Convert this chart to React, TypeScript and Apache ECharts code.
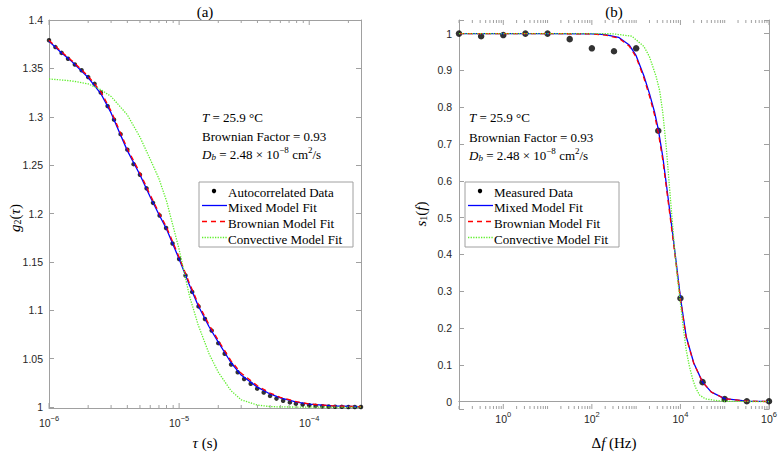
import React, { useEffect, useRef } from 'react';
import * as echarts from 'echarts';

// ---------- (a) autocorrelation ----------
const tauData = [
  1.0e-6, 1.12e-6, 1.25e-6, 1.4e-6, 1.58e-6, 1.78e-6, 2.0e-6, 2.24e-6, 2.5e-6, 2.82e-6,
  3.16e-6, 3.55e-6, 4.0e-6, 4.47e-6, 5.0e-6, 5.62e-6, 6.3e-6, 7.08e-6, 7.94e-6, 8.9e-6,
  1.0e-5, 1.12e-5, 1.26e-5, 1.41e-5, 1.58e-5, 1.78e-5, 2.0e-5, 2.24e-5, 2.51e-5, 2.82e-5,
  3.16e-5, 3.55e-5, 3.98e-5, 4.47e-5, 5.0e-5, 5.6e-5, 6.3e-5, 7.1e-5, 7.9e-5, 8.9e-5,
  1.0e-4, 1.12e-4, 1.26e-4, 1.41e-4, 1.58e-4, 1.78e-4, 2.0e-4, 2.24e-4, 2.5e-4,
];
const g2Data = [
  1.379, 1.372, 1.366, 1.36, 1.354, 1.348, 1.341, 1.334, 1.325, 1.311,
  1.297, 1.282, 1.266, 1.251, 1.24, 1.226, 1.211, 1.198, 1.185, 1.169,
  1.153, 1.136, 1.119, 1.104, 1.091, 1.079, 1.066, 1.055, 1.044, 1.036,
  1.029, 1.024, 1.019, 1.015, 1.0115, 1.0087, 1.0065, 1.0048, 1.0035, 1.0025,
  1.0018, 1.0012, 1.0008, 1.0005, 1.0003, 1.0002, 1.0001, 1.0, 1.0,
];
const tauFit = [
  1e-6, 1.25e-6, 1.5e-6, 2e-6, 2.5e-6, 3e-6, 4e-6, 5e-6, 6e-6, 7e-6, 8e-6,
  1e-5, 1.2e-5, 1.4e-5, 1.7e-5, 2e-5, 2.5e-5, 3e-5, 4e-5, 5e-5, 6e-5, 8e-5,
  1e-4, 1.5e-4, 2.5e-4,
];
const g2Mixed = [
  1.378, 1.366, 1.357, 1.3405, 1.324, 1.304, 1.265, 1.24, 1.217, 1.199, 1.184,
  1.153, 1.126, 1.105, 1.083, 1.067, 1.046, 1.033, 1.0205, 1.0135, 1.0095, 1.005,
  1.003, 1.0012, 1.0003,
];
const g2Brownian = [
  1.379, 1.367, 1.358, 1.342, 1.326, 1.306, 1.267, 1.242, 1.219, 1.201, 1.186,
  1.155, 1.128, 1.107, 1.085, 1.069, 1.048, 1.035, 1.022, 1.0145, 1.01, 1.0055,
  1.0032, 1.0012, 1.0003,
];
const g2Convective = [
  1.339, 1.338, 1.337, 1.334, 1.328, 1.321, 1.302, 1.279, 1.256, 1.236, 1.213,
  1.163, 1.115, 1.085, 1.055, 1.036, 1.017, 1.0075, 1.002, 1.0005, 1.0001, 1.0,
  1.0, 1.0, 1.0,
];

// ---------- (b) spectrum ----------
const fMeasured = [0.1, 0.316, 1, 3.16, 10, 31.6, 100, 316, 1000, 3162, 1e4, 3.16e4, 1e5, 3.16e5, 1e6];
const s1Measured = [1.0, 0.993, 0.996, 1.0, 1.0, 0.985, 0.96, 0.952, 0.96, 0.736, 0.281, 0.053, 0.007, 0.001, 0.001];
const fFit = [0.1, 1, 10, 100, 200, 400, 700, 1000, 1500, 2000, 2600, 3162, 4000, 5000, 6300, 8000, 1e4, 1.35e4, 2e4, 3.16e4, 5e4, 1e5, 3.16e5, 1e6];
const s1Mixed = [1.0, 1.0, 1.0, 0.9995, 0.997, 0.99, 0.969, 0.94, 0.885, 0.837, 0.787, 0.74, 0.665, 0.575, 0.48, 0.38, 0.283, 0.177, 0.105, 0.053, 0.026, 0.008, 0.0015, 0.0003];
const s1Brownian = [1.0, 1.0, 1.0, 0.9993, 0.996, 0.988, 0.966, 0.936, 0.879, 0.83, 0.779, 0.731, 0.656, 0.566, 0.472, 0.373, 0.278, 0.174, 0.104, 0.053, 0.026, 0.008, 0.0015, 0.0003];
const fConv = [0.1, 1, 10, 100, 300, 800, 1500, 2000, 2800, 3400, 4000, 4800, 5600, 6300, 7400, 8600, 1e4, 1.15e4, 1.35e4, 1.6e4, 1.9e4, 2.2e4, 2.7e4, 3.6e4, 5.5e4, 1e5, 1e6];
const s1Conv = [1.0, 1.0, 1.0, 1.0, 0.9995, 0.993, 0.965, 0.937, 0.885, 0.845, 0.785, 0.69, 0.59, 0.515, 0.412, 0.335, 0.268, 0.205, 0.14, 0.095, 0.06, 0.038, 0.018, 0.008, 0.004, 0.001, 0.0];

const legendA = ['Autocorrelated Data', 'Mixed Model Fit', 'Brownian Model Fit', 'Convective Model Fit'];
const legendB = ['Measured Data', 'Mixed Model Fit', 'Brownian Model Fit', 'Convective Model Fit'];

const SERIF = '"Liberation Serif", "DejaVu Serif", serif';
const SANS = '"Liberation Sans", Arial, sans-serif';
const AXIS = '#a0a0a0';
const BLUE = '#0000ff';
const RED = '#ff0000';
const GREEN = '#5fee2c';

const zip = (a: number[], b: number[]) => a.map((v, i) => [v, b[i]]);

// minor/major tick positions on the log axes
function logTicks(lo: number, hi: number, isMajor: (e: number) => boolean, yRef: number) {
  const out: number[][] = [];
  for (let e = lo; e <= hi; e++) {
    for (let m = 1; m <= 9; m++) {
      const v = m * Math.pow(10, e);
      out.push([v, yRef, m === 1 && isMajor(e) ? 1 : 0]);
    }
  }
  return out;
}
const ticksA = logTicks(-6, -4, () => true, 1.2).filter((d) => d[0] <= 2.5e-4 + 1e-12);
const ticksB = logTicks(-1, 6, (e) => e >= 0 && e % 2 === 0, 0.5).filter((d) => d[0] <= 1e6 * 1.0001);

const tickRender = (params: any, api: any) => {
  const x = api.coord([api.value(0), api.value(1)])[0];
  const cs = params.coordSys;
  const len = api.value(2) ? 5 : 3;
  const b = cs.y + cs.height;
  return {
    type: 'group',
    children: [
      { type: 'line', shape: { x1: x, y1: b, x2: x, y2: b - len }, style: { stroke: AXIS, lineWidth: 1 } },
      { type: 'line', shape: { x1: x, y1: cs.y, x2: x, y2: cs.y + len }, style: { stroke: AXIS, lineWidth: 1 } },
    ],
  };
};

const rich = {
  r: { fontFamily: SERIF, fontSize: 13, color: '#000', lineHeight: 16, verticalAlign: 'bottom' },
  i: { fontFamily: SERIF, fontSize: 13, color: '#000', fontStyle: 'italic', lineHeight: 16, verticalAlign: 'bottom' },
  sup: { fontFamily: SERIF, fontSize: 9, color: '#000', lineHeight: 8, verticalAlign: 'top' },
  sub: { fontFamily: SERIF, fontSize: 9, color: '#000', lineHeight: 7, verticalAlign: 'bottom' },
  si: { fontFamily: SERIF, fontSize: 9, color: '#000', fontStyle: 'italic', lineHeight: 7, verticalAlign: 'bottom' },
};
const bigRich = {
  r: { fontFamily: SERIF, fontSize: 15, color: '#000', lineHeight: 18, verticalAlign: 'bottom' },
  i: { fontFamily: SERIF, fontSize: 15, color: '#000', fontStyle: 'italic', lineHeight: 18, verticalAlign: 'bottom' },
  sub: { fontFamily: SERIF, fontSize: 10, color: '#000', lineHeight: 8, verticalAlign: 'bottom' },
};

function richText(x: number, y: number, text: string, r: any = rich, extra: any = {}) {
  return {
    type: 'text',
    x,
    y,
    silent: true,
    ...extra,
    style: { text, rich: r, align: extra.align || 'left', verticalAlign: 'middle', fill: '#000' },
  };
}

function annotation(x: number, ys: number[]) {
  return [
    richText(x, ys[0], '{i|T}{r| = 25.9 °C}'),
    richText(x, ys[1], '{r|Brownian Factor = 0.93}'),
    richText(x, ys[2], '{i|D}{si|b}{r| = 2.48 × 10}{sup|−8}{r| cm}{sup|2}{r|/s}'),
  ];
}

function legendBox(x0: number, y0: number, labels: string[]) {
  const rows = [9, 23.5, 39.5, 55.5];
  const els: any[] = [
    { type: 'rect', shape: { x: x0, y: y0, width: 154, height: 65 }, style: { fill: '#fff', stroke: AXIS, lineWidth: 1 }, z: 10 },
    { type: 'circle', shape: { cx: x0 + 15, cy: y0 + rows[0], r: 2.2 }, style: { fill: '#000' }, z: 11 },
    { type: 'line', shape: { x1: x0 + 3, y1: y0 + rows[1], x2: x0 + 28, y2: y0 + rows[1] }, style: { stroke: BLUE, lineWidth: 1.3 }, z: 11 },
    { type: 'line', shape: { x1: x0 + 3, y1: y0 + rows[2], x2: x0 + 28, y2: y0 + rows[2] }, style: { stroke: RED, lineWidth: 1.3, lineDash: [5, 4] }, z: 11 },
    { type: 'line', shape: { x1: x0 + 3, y1: y0 + rows[3], x2: x0 + 28, y2: y0 + rows[3] }, style: { stroke: GREEN, lineWidth: 1.3, lineDash: [1.3, 1.3] }, z: 11 },
  ];
  labels.forEach((t, k) => {
    els.push({ ...richText(x0 + 29, y0 + rows[k], '{r|' + t + '}'), z: 11 });
  });
  return els;
}

const expLabel = (show: (e: number) => boolean) => (v: number) => {
  const l = Math.log10(v);
  const e = Math.round(l);
  if (Math.abs(l - e) > 1e-6 || !show(e)) return '';
  return '{b|10}{s|' + (e < 0 ? '−' + -e : String(e)) + '}';
};
const tickRich = {
  b: { fontFamily: SANS, fontSize: 10.5, color: '#262626', lineHeight: 14, verticalAlign: 'bottom' },
  s: { fontFamily: SANS, fontSize: 7.5, color: '#262626', lineHeight: 7, verticalAlign: 'top' },
};
const multLabel = (step: number) => (v: number) => {
  const q = v / step;
  if (Math.abs(q - Math.round(q)) > 1e-6) return '';
  return String(Math.round(v * 100) / 100);
};

export default function App() {
  const ref = useRef<HTMLDivElement>(null);
  useEffect(() => {
    if (!ref.current) return;
    const chart = echarts.init(ref.current, undefined, { renderer: 'svg' });
    const axisLineStyle = { show: true, lineStyle: { color: AXIS, width: 1 } };
    const xBase = (grid: number, min: number, max: number) => ({
      type: 'log', logBase: 10, gridIndex: grid, min, max,
      axisLine: axisLineStyle, axisTick: { show: false }, splitLine: { show: false }, minorTick: { show: false },
    });
    const yBase = (grid: number, min: number, max: number, split: number) => ({
      type: 'value', gridIndex: grid, min, max, splitNumber: split, scale: true,
      axisLine: axisLineStyle, axisTick: { show: true, inside: true, length: 5, lineStyle: { color: AXIS } },
      splitLine: { show: false },
    });
    const fitLine = (name: string, xi: number, data: number[][], color: string, type: any, width: number, z: number) => ({
      name, type: 'line', xAxisIndex: xi, yAxisIndex: xi, data, showSymbol: false, smooth: false,
      lineStyle: { color, width, type }, z,
    });
    const option: any = {
      animation: false,
      backgroundColor: '#ffffff',
      grid: [
        { left: 49, top: 20, width: 312, height: 388 },
        { left: 459, top: 20, width: 310, height: 389 },
      ],
      xAxis: [
        { ...xBase(0, 1e-6, 2.5e-4), position: 'bottom',
          axisLabel: { formatter: expLabel(() => true), rich: tickRich, margin: 6, showMinLabel: true } },
        { ...xBase(0, 1e-6, 2.5e-4), position: 'top', axisLabel: { show: false } },
        { ...xBase(1, 0.1, 1e6), position: 'bottom',
          axisLabel: { formatter: expLabel((e) => e >= 0 && e % 2 === 0), rich: tickRich, margin: 1 } },
        { ...xBase(1, 0.1, 1e6), position: 'top', axisLabel: { show: false } },
      ],
      yAxis: [
        { ...yBase(0, 0.999, 1.4, 8), position: 'left',
          axisLabel: { formatter: multLabel(0.05), fontFamily: SANS, fontSize: 10.5, color: '#262626', margin: 6 } },
        { ...yBase(0, 0.999, 1.4, 8), position: 'right', axisLabel: { show: false } },
        { ...yBase(1, -0.02, 1.037, 10), position: 'left',
          axisLabel: { formatter: multLabel(0.1), fontFamily: SANS, fontSize: 10.5, color: '#262626', margin: 7 } },
        { ...yBase(1, -0.02, 1.037, 10), position: 'right', axisLabel: { show: false } },
      ],
      series: [
        { type: 'custom', xAxisIndex: 0, yAxisIndex: 0, data: ticksA, renderItem: tickRender, silent: true, clip: false, z: 1 },
        { type: 'custom', xAxisIndex: 2, yAxisIndex: 2, data: ticksB, renderItem: tickRender, silent: true, clip: false, z: 1 },
        { name: legendA[0], type: 'scatter', xAxisIndex: 0, yAxisIndex: 0, data: zip(tauData, g2Data),
          symbol: 'circle', symbolSize: 4.5, itemStyle: { color: '#000' }, z: 2 },
        fitLine(legendA[1], 0, zip(tauFit, g2Mixed), BLUE, 'solid', 1.3, 3),
        fitLine(legendA[2], 0, zip(tauFit, g2Brownian), RED, [5, 4], 1.3, 4),
        fitLine(legendA[3], 0, zip(tauFit, g2Convective), GREEN, [1.3, 1.3], 1.3, 5),
        { name: legendB[0], type: 'scatter', xAxisIndex: 2, yAxisIndex: 2, data: zip(fMeasured, s1Measured),
          symbol: 'circle', symbolSize: 6.5, itemStyle: { color: '#000' }, z: 2 },
        fitLine(legendB[1], 2, zip(fFit, s1Mixed), BLUE, 'solid', 1.3, 3),
        fitLine(legendB[2], 2, zip(fFit, s1Brownian), RED, [5, 4], 1.3, 4),
        fitLine(legendB[3], 2, zip(fConv, s1Conv), GREEN, [1.3, 1.3], 1.3, 5),
      ],
      graphic: [
        richText(205, 10, '{r|(a)}', bigRich, { align: 'center' }),
        richText(614, 10, '{r|(b)}', bigRich, { align: 'center' }),
        richText(205, 441, '{i|τ}{r| (s)}', bigRich, { align: 'center' }),
        richText(614, 441, '{r|Δ}{i|f}{r| (Hz)}', bigRich, { align: 'center' }),
        richText(13, 218, '{i|g}{sub|2}{r|(}{i|τ}{r|)}', bigRich, { align: 'center', rotation: Math.PI / 2 }),
        richText(419, 214, '{i|s}{sub|1}{r|(}{i|f}{r|)}', bigRich, { align: 'center', rotation: Math.PI / 2 }),
        ...annotation(202, [116, 134.5, 153]),
        ...annotation(469, [116, 135.5, 154]),
        ...legendBox(199, 182, legendA),
        ...legendBox(465, 182, legendB),
      ],
    };
    chart.setOption(option);
    return () => chart.dispose();
  }, []);
  return <div ref={ref} style={{ position: 'absolute', left: 0, top: 0, width: 780, height: 452, background: '#fff' }} />;
}
